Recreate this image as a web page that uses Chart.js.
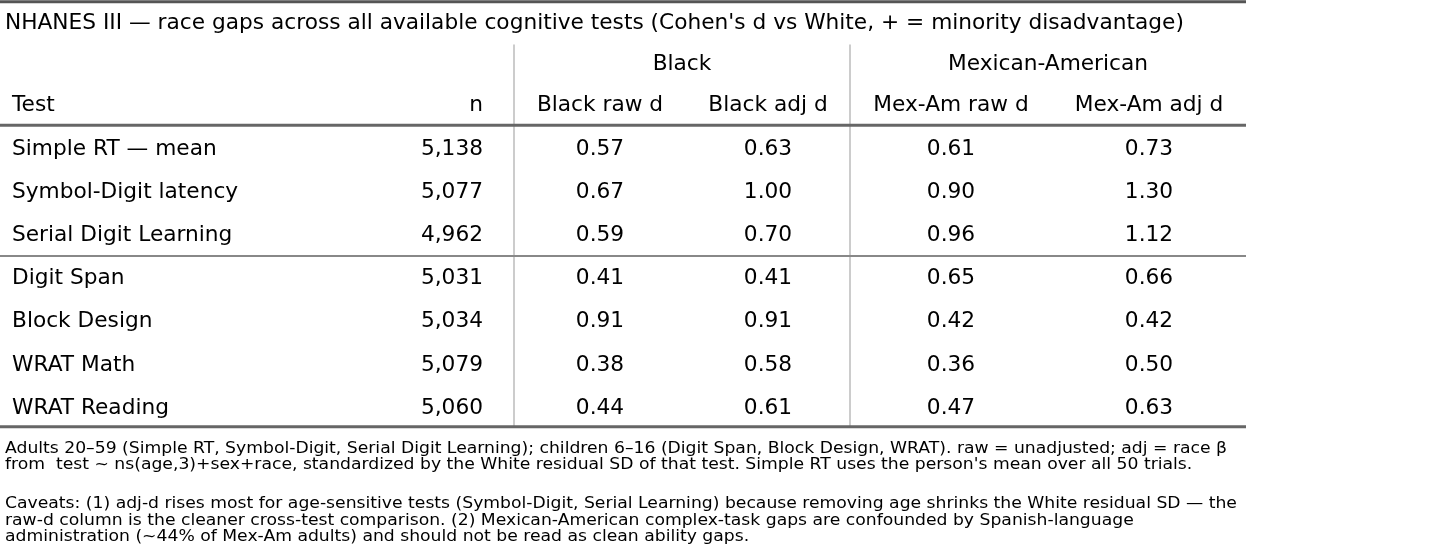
<!DOCTYPE html>
<html>
<head>
<meta charset="utf-8">
<script src="https://cdn.jsdelivr.net/npm/chart.js@4.4.1/dist/chart.umd.min.js"></script>
<style>
  html, body { margin: 0; padding: 0; background: #fff; }
  #wrap { width: 1456px; height: 544px; position: relative; }
</style>
</head>
<body>
<div id="wrap"><canvas id="tableChart"></canvas></div>
<script>
// table content
const titleText = "NHANES III \u2014 race gaps across all available cognitive tests (Cohen's d vs White, + = minority disadvantage)";
const groupHeaders = ['Black', 'Mexican-American'];
const columnHeaders = ['Test', 'n', 'Black raw d', 'Black adj d', 'Mex-Am raw d', 'Mex-Am adj d'];
const tests = ['Simple RT \u2014 mean', 'Symbol-Digit latency', 'Serial Digit Learning', 'Digit Span', 'Block Design', 'WRAT Math', 'WRAT Reading'];
const nValues = [5138, 5077, 4962, 5031, 5034, 5079, 5060];
const blackRaw = [0.57, 0.67, 0.59, 0.41, 0.91, 0.38, 0.44];
const blackAdj = [0.63, 1.00, 0.70, 0.41, 0.91, 0.58, 0.61];
const mexRaw = [0.61, 0.90, 0.96, 0.65, 0.42, 0.36, 0.47];
const mexAdj = [0.73, 1.30, 1.12, 0.66, 0.42, 0.50, 0.63];
const footnotes = [
  'Adults 20\u201359 (Simple RT, Symbol-Digit, Serial Digit Learning); children 6\u201316 (Digit Span, Block Design, WRAT). raw = unadjusted; adj = race \u03b2',
  'from  test ~ ns(age,3)+sex+race, standardized by the White residual SD of that test. Simple RT uses the person\'s mean over all 50 trials.',
  '',
  'Caveats: (1) adj-d rises most for age-sensitive tests (Symbol-Digit, Serial Learning) because removing age shrinks the White residual SD \u2014 the',
  'raw-d column is the cleaner cross-test comparison. (2) Mexican-American complex-task gaps are confounded by Spanish-language',
  'administration (~44% of Mex-Am adults) and should not be read as clean ability gaps.'
];

// layout (x in table units = px across, y in row units)
const colX = [12, 483, 600, 768, 951, 1149];
const colAlign = ['left', 'right', 'center', 'center', 'center', 'center'];
const groupX = [682, 1048];
const dividerX = [514, 850];
const tableRight = 1246;
const footRows = [6.94, 7.31, 7.7, 8.22, 8.61, 8.98];
const FONT = '"DejaVu Sans", sans-serif';

const fmtN = v => v.toLocaleString('en-US');
const fmtD = v => v.toFixed(2);

const columns = [
  tests,
  nValues.map(fmtN),
  blackRaw.map(fmtD),
  blackAdj.map(fmtD),
  mexRaw.map(fmtD),
  mexAdj.map(fmtD)
];

const datasets = columns.map((texts, c) => ({
  label: columnHeaders[c],
  data: texts.map((t, r) => ({ x: colX[c], y: r })),
  texts: texts,
  align: colAlign[c],
  pointRadius: 0,
  showLine: false
}));

// text with optional horizontal stretch
function drawText(ctx, text, x, y, align, sx) {
  ctx.save();
  ctx.translate(x, y);
  ctx.scale(sx || 1, 1);
  ctx.textAlign = align;
  ctx.fillText(text, 0, 0);
  ctx.restore();
}

const tablePlugin = {
  id: 'tablePlugin',
  afterDatasetsDraw(chart) {
    const ctx = chart.ctx;
    const xs = chart.scales.x, ys = chart.scales.y;
    const px = v => xs.getPixelForValue(v);
    const py = v => ys.getPixelForValue(v);
    ctx.save();

    const hline = (row, width, color) => {
      ctx.strokeStyle = color;
      ctx.lineWidth = width;
      ctx.beginPath();
      ctx.moveTo(px(0), py(row));
      ctx.lineTo(px(tableRight), py(row));
      ctx.stroke();
    };
    // vertical group dividers
    ctx.strokeStyle = '#bbbbbb';
    ctx.lineWidth = 1.5;
    dividerX.forEach(x => {
      ctx.beginPath();
      ctx.moveTo(px(x), py(-2.42));
      ctx.lineTo(px(x), py(6.45));
      ctx.stroke();
    });
    hline(-3.41, 3, '#555555');
    hline(-0.55, 3, '#666666');
    hline(2.48, 2, '#888888');
    hline(6.43, 3, '#666666');

    ctx.fillStyle = '#000';
    ctx.textBaseline = 'middle';

    // title
    ctx.font = '21.7px ' + FONT;
    drawText(ctx, titleText, px(5), py(-2.9), 'left');

    // group headers
    groupHeaders.forEach((g, i) => drawText(ctx, g, px(groupX[i]), py(-1.95), 'center'));

    // column headers
    columnHeaders.forEach((h, c) => drawText(ctx, h, px(colX[c]), py(-1), colAlign[c]));

    // cells
    chart.data.datasets.forEach((ds, i) => {
      const meta = chart.getDatasetMeta(i);
      meta.data.forEach((pt, r) => drawText(ctx, ds.texts[r], pt.x, pt.y, ds.align));
    });

    // footnotes
    ctx.font = '16px ' + FONT;
    footnotes.forEach((f, i) => { if (f) drawText(ctx, f, px(5), py(footRows[i]), 'left', 1.075); });

    ctx.restore();
  }
};

new Chart(document.getElementById('tableChart'), {
  type: 'scatter',
  data: { datasets: datasets },
  options: {
    responsive: true,
    maintainAspectRatio: false,
    animation: false,
    layout: { padding: 0 },
    plugins: { legend: { display: false }, tooltip: { enabled: false }, title: { display: false } },
    scales: {
      x: { type: 'linear', display: false, min: 0, max: 1456 },
      y: { type: 'linear', display: false, min: -3.449, max: 9.144, reverse: true }
    }
  },
  plugins: [tablePlugin]
});
</script>
</body>
</html>
